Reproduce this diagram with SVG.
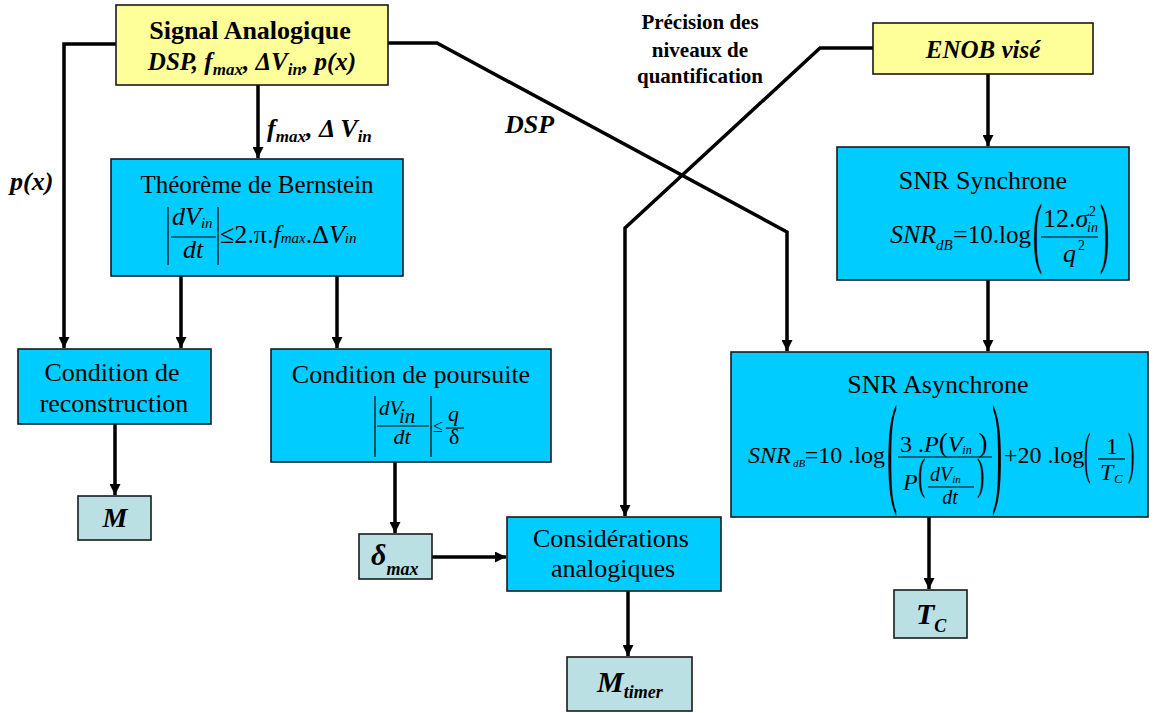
<svg xmlns="http://www.w3.org/2000/svg" width="1154" height="713" viewBox="0 0 1154 713" font-family="'Liberation Serif', 'DejaVu Serif', serif">
<style>
text{font-family:"Liberation Serif","DejaVu Serif",serif;fill:#000}
.box{fill:#00CCFF;stroke:#1a1a1a;stroke-width:1.6}
.ybox{fill:#FFFF99;stroke:#1a1a1a;stroke-width:1.6}
.sbox{fill:#BBE0E3;stroke:#1a1a1a;stroke-width:1.6}
.b{font-weight:bold}
.i{font-style:italic}
.bi{font-weight:bold;font-style:italic}
.mid{text-anchor:middle}
.end{text-anchor:end}
.conn path{fill:none;stroke:#000;stroke-width:3.5}
.rule{stroke:#000;stroke-width:1.2}
</style>
<defs>
<marker id="ah" markerUnits="userSpaceOnUse" markerWidth="11" markerHeight="11" refX="11" refY="5.5" orient="auto"><path d="M0,0 L11,5.5 L0,11 z" fill="#000"/></marker>
</defs>
<rect width="1154" height="713" fill="#fff"/>

<g id="connectors" class="conn">
<path d="M116,44 H64 V348" marker-end="url(#ah)"/>
<path d="M258,85 V158" marker-end="url(#ah)"/>
<path d="M388,43 H437 L787,232 V351" marker-end="url(#ah)"/>
<path d="M181,276 V348" marker-end="url(#ah)"/>
<path d="M337,276 V348" marker-end="url(#ah)"/>
<path d="M115,424 V495" marker-end="url(#ah)"/>
<path d="M395,462 V533" marker-end="url(#ah)"/>
<path d="M432,557 H506" marker-end="url(#ah)"/>
<path d="M873,48 H820 L625,228 V516" marker-end="url(#ah)"/>
<path d="M988,74 V146" marker-end="url(#ah)"/>
<path d="M988,280 V351" marker-end="url(#ah)"/>
<path d="M929,517 V589" marker-end="url(#ah)"/>
<path d="M628,591 V656" marker-end="url(#ah)"/>
</g>

<g id="labels">
<text class="bi" x="10" y="190" font-size="26">p(x)</text>
<text class="bi" x="505" y="133" font-size="26">DSP</text>
<text class="bi" x="267" y="137" font-size="26">f<tspan font-size="17" dy="5">max</tspan><tspan dy="-5">, Δ V</tspan><tspan font-size="17" dy="5">in</tspan></text>
<text class="b mid" x="700" y="29" font-size="21">Précision des</text>
<text class="b mid" x="700" y="57" font-size="21">niveaux de</text>
<text class="b mid" x="700" y="83" font-size="21">quantification</text>
</g>

<g id="signal">
<rect class="ybox" x="116" y="5" width="272" height="80"/>
<text class="b mid" x="250" y="39" font-size="26">Signal Analogique</text>
<text class="bi mid" x="252" y="70" font-size="25">DSP, f<tspan font-size="17" dy="5">max</tspan><tspan dy="-5">, ΔV</tspan><tspan font-size="17" dy="5">in</tspan><tspan dy="-5">, p(x)</tspan></text>
</g>

<g id="enob">
<rect class="ybox" x="873" y="23" width="220" height="51"/>
<text class="bi mid" x="983" y="58" font-size="25">ENOB visé</text>
</g>

<g id="bernstein">
<rect class="box" x="111" y="159" width="292" height="117"/>
<text class="mid" x="257" y="193" font-size="25">Théorème de Bernstein</text>
<line class="rule" x1="168" y1="207" x2="168" y2="265"/>
<line class="rule" x1="218" y1="207" x2="218" y2="265"/>
<text class="i" x="172" y="225" font-size="26">dV<tspan font-size="15" dy="3">in</tspan></text>
<line class="rule" x1="171" y1="237" x2="216" y2="237"/>
<text class="i mid" x="193" y="258" font-size="26">dt</text>
<text x="220" y="243" font-size="26">≤2.π.<tspan class="i">f</tspan><tspan class="i" font-size="15">max</tspan>.Δ<tspan class="i">V</tspan><tspan class="i" font-size="15">in</tspan></text>
</g>

<g id="reconstruction">
<rect class="box" x="18" y="349" width="193" height="75"/>
<text class="mid" x="112" y="381" font-size="26">Condition de</text>
<text class="mid" x="114" y="412" font-size="26">reconstruction</text>
</g>

<g id="poursuite">
<rect class="box" x="271" y="349" width="280" height="113"/>
<text class="mid" x="411" y="383" font-size="26">Condition de poursuite</text>
<line class="rule" x1="375" y1="396" x2="375" y2="457"/>
<line class="rule" x1="431" y1="396" x2="431" y2="457"/>
<text class="i" x="379" y="415" font-size="21">dV<tspan x="399" dy="8">in</tspan></text>
<line class="rule" x1="377" y1="426" x2="429" y2="426"/>
<text class="i mid" x="402" y="444" font-size="22">dt</text>
<text x="433" y="432" font-size="18">≤</text>
<text class="i" x="448" y="421" font-size="22">q</text>
<line class="rule" x1="446" y1="428" x2="464" y2="428"/>
<text x="449" y="444" font-size="22">δ</text>
</g>

<g id="considerations">
<rect class="box" x="507" y="517" width="214" height="74"/>
<text class="mid" x="611" y="547" font-size="26">Considérations</text>
<text class="mid" x="613" y="577" font-size="26">analogiques</text>
</g>

<g id="snr-synchrone">
<rect class="box" x="837" y="147" width="292" height="133"/>
<text class="mid" x="983" y="189" font-size="26">SNR Synchrone</text>
<text class="i" x="890" y="243" font-size="26">SNR</text>
<text class="i" x="936" y="250" font-size="15">dB</text>
<text x="953" y="243" font-size="26">=</text>
<text class="end" x="1031" y="243" font-size="25">10.log</text>
<text transform="translate(1033,258) scale(0.35,1)" font-size="79">(</text>
<text x="1043" y="227" font-size="26">12.<tspan class="i">σ</tspan></text>
<text x="1089" y="216" font-size="14">2</text>
<text class="i" x="1087" y="232" font-size="14">in</text>
<line class="rule" x1="1041" y1="237" x2="1098" y2="237"/>
<text class="i" x="1063" y="262" font-size="26">q</text>
<text x="1078" y="250" font-size="14">2</text>
<text transform="translate(1100,258) scale(0.35,1)" font-size="79">)</text>
</g>

<g id="snr-asynchrone">
<rect class="box" x="731" y="352" width="417" height="165"/>
<text class="mid" x="938" y="393" font-size="26">SNR Asynchrone</text>
<text class="i" x="748" y="463" font-size="24">SNR</text>
<text class="i" x="793" y="467" font-size="11">dB</text>
<text class="end" x="885" y="463" font-size="24">=10 .log</text>
<text transform="translate(887,490) scale(0.25,1)" font-size="123">(</text>
<text x="900" y="452" font-size="24">3 .<tspan class="i">P</tspan><tspan font-size="27">(</tspan><tspan class="i">V</tspan><tspan class="i" font-size="12" dy="2">in</tspan><tspan font-size="27" dy="-2"> )</tspan></text>
<line class="rule" x1="898" y1="457" x2="992" y2="457"/>
<text class="i" x="903" y="490" font-size="24">P</text>
<text transform="translate(918,489) scale(0.5,1)" font-size="45">(</text>
<text class="i" x="930" y="481" font-size="20">dV<tspan font-size="11" dy="2">in</tspan></text>
<line class="rule" x1="928" y1="487" x2="974" y2="487"/>
<text class="i mid" x="950" y="504" font-size="20">dt</text>
<text transform="translate(977,489) scale(0.5,1)" font-size="45">)</text>
<text transform="translate(992,490) scale(0.25,1)" font-size="123">)</text>
<text x="1004" y="463" font-size="24">+20 .log</text>
<text transform="translate(1084,472) scale(0.35,1)" font-size="56">(</text>
<text class="mid" x="1112" y="454" font-size="24">1</text>
<line class="rule" x1="1098" y1="459" x2="1125" y2="459"/>
<text class="i" x="1100" y="480" font-size="24">T</text>
<text class="i" x="1114" y="483" font-size="13">C</text>
<text transform="translate(1128,472) scale(0.35,1)" font-size="56">)</text>
</g>

<g id="m">
<rect class="sbox" x="78" y="496" width="73" height="44"/>
<text class="bi mid" x="115" y="527" font-size="28">M</text>
</g>

<g id="delta-max">
<rect class="sbox" x="359" y="534" width="73" height="45"/>
<text class="bi" x="371" y="565" font-size="30">δ<tspan font-size="18" dy="10">max</tspan></text>
</g>

<g id="m-timer">
<rect class="sbox" x="567" y="657" width="125" height="54"/>
<text class="bi" x="597" y="692" font-size="30">M<tspan font-size="18" dy="6">timer</tspan></text>
</g>

<g id="tc">
<rect class="sbox" x="894" y="590" width="73" height="48"/>
<text class="bi" x="916" y="624" font-size="30">T<tspan font-size="18" dy="8">C</tspan></text>
</g>
</svg>
